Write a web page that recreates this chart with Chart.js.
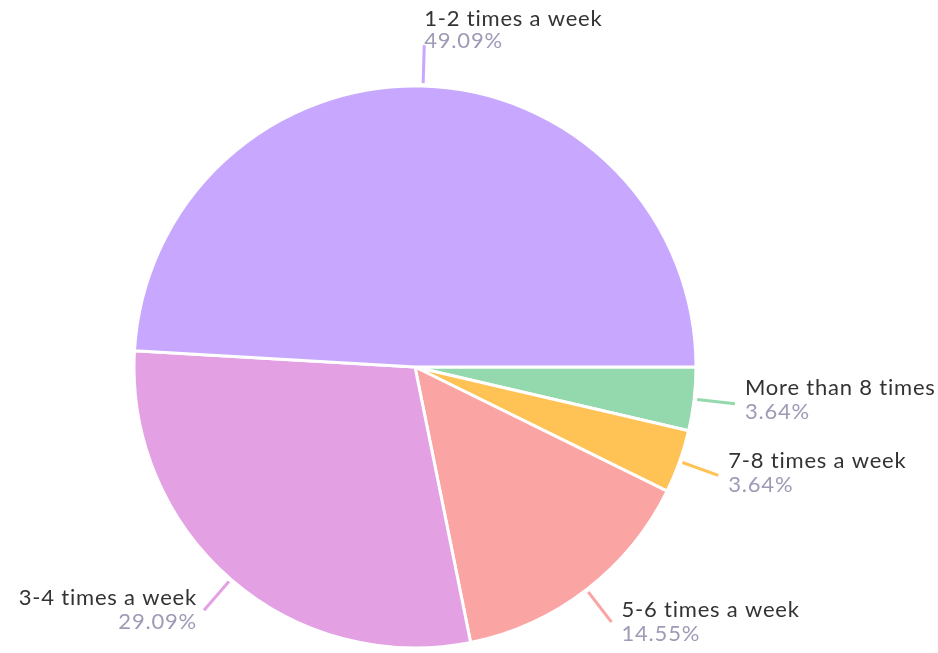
<!DOCTYPE html>
<html>
<head>
<meta charset="utf-8">
<script src="https://cdn.jsdelivr.net/npm/chart.js@4.4.1/dist/chart.umd.min.js"></script>
<style>
  html, body { margin: 0; padding: 0; background: #fff; }
  #wrap { width: 938px; height: 653px; }
</style>
</head>
<body>
<div id="wrap"><canvas id="pie"></canvas></div>
<script>
// data, in the order the slices go round (counter-clockwise from 3 o'clock)
var categories = ['1-2 times a week', '3-4 times a week', '5-6 times a week', '7-8 times a week', 'More than 8 times a week'];
var shares = [49.09, 29.09, 14.55, 3.64, 3.64];
var sliceColors = ['#c7a8fe', '#e3a0e3', '#fba4a4', '#ffc254', '#93d9ad'];

// chart.js goes clockwise, so flip the order
var lbls = categories.slice().reverse();
var vals = shares.slice().reverse();
var cols = sliceColors.slice().reverse();

var labelFont = '22px Lato';

var outLabels = {
	id: 'outLabels',
	afterDatasetsDraw: function(chart){
		var ctx = chart.ctx;
		var meta = chart.getDatasetMeta(0);
		ctx.save();
		for(var i = 0;i<meta.data.length;i++){
			var arc = meta.data[i];
			var mid = (arc.startAngle + arc.endAngle)/2;
			var cs = Math.cos(mid), sn = Math.sin(mid);
			var r = arc.outerRadius;
			var x1 = arc.x + cs*(r+3), y1 = arc.y + sn*(r+3);
			var x2 = arc.x + cs*(r+41), y2 = arc.y + sn*(r+41);
			ctx.strokeStyle = cols[i];
			ctx.lineWidth = 3;
			ctx.beginPath();ctx.moveTo(x1,y1);ctx.lineTo(x2,y2);ctx.stroke();

			ctx.font = labelFont;
			ctx.letterSpacing = '0.8px';
			ctx.textBaseline = 'alphabetic';
			var tx, nameY, pctY;
			if(Math.abs(cs) < 0.2){
				ctx.textAlign = 'left';
				tx = x2; pctY = y2 + 3; nameY = pctY - 22;
			} else {
				nameY = y2 - 9 + 5*Math.max(sn,0);
				pctY = nameY + 24;
				if(cs > 0){ ctx.textAlign = 'left'; tx = x2 + 10; }
				else { ctx.textAlign = 'right'; tx = x2 - 7; }
			}
			ctx.fillStyle = '#333333';
			ctx.fillText(lbls[i], tx, nameY);
			ctx.fillStyle = '#9d9bb6';
			ctx.fillText(vals[i].toFixed(2) + '%', tx, pctY);
		}
		ctx.restore();
	}
};

new Chart(document.getElementById('pie').getContext('2d'), {
	type: 'pie',
	data: {
		labels: lbls,
		datasets: [{
			data: vals,
			backgroundColor: cols,
			borderColor: '#ffffff',
			borderWidth: 3
		}]
	},
	options: {
		responsive: true,
		maintainAspectRatio: false,
		animation: false,
		rotation: 90,
		radius: 281,
		layout: { padding: { left: 134, right: 242, top: 86, bottom: 5 } },
		plugins: {
			legend: { display: false },
			tooltip: { enabled: false }
		}
	},
	plugins: [outLabels]
});
</script>
</body>
</html>
